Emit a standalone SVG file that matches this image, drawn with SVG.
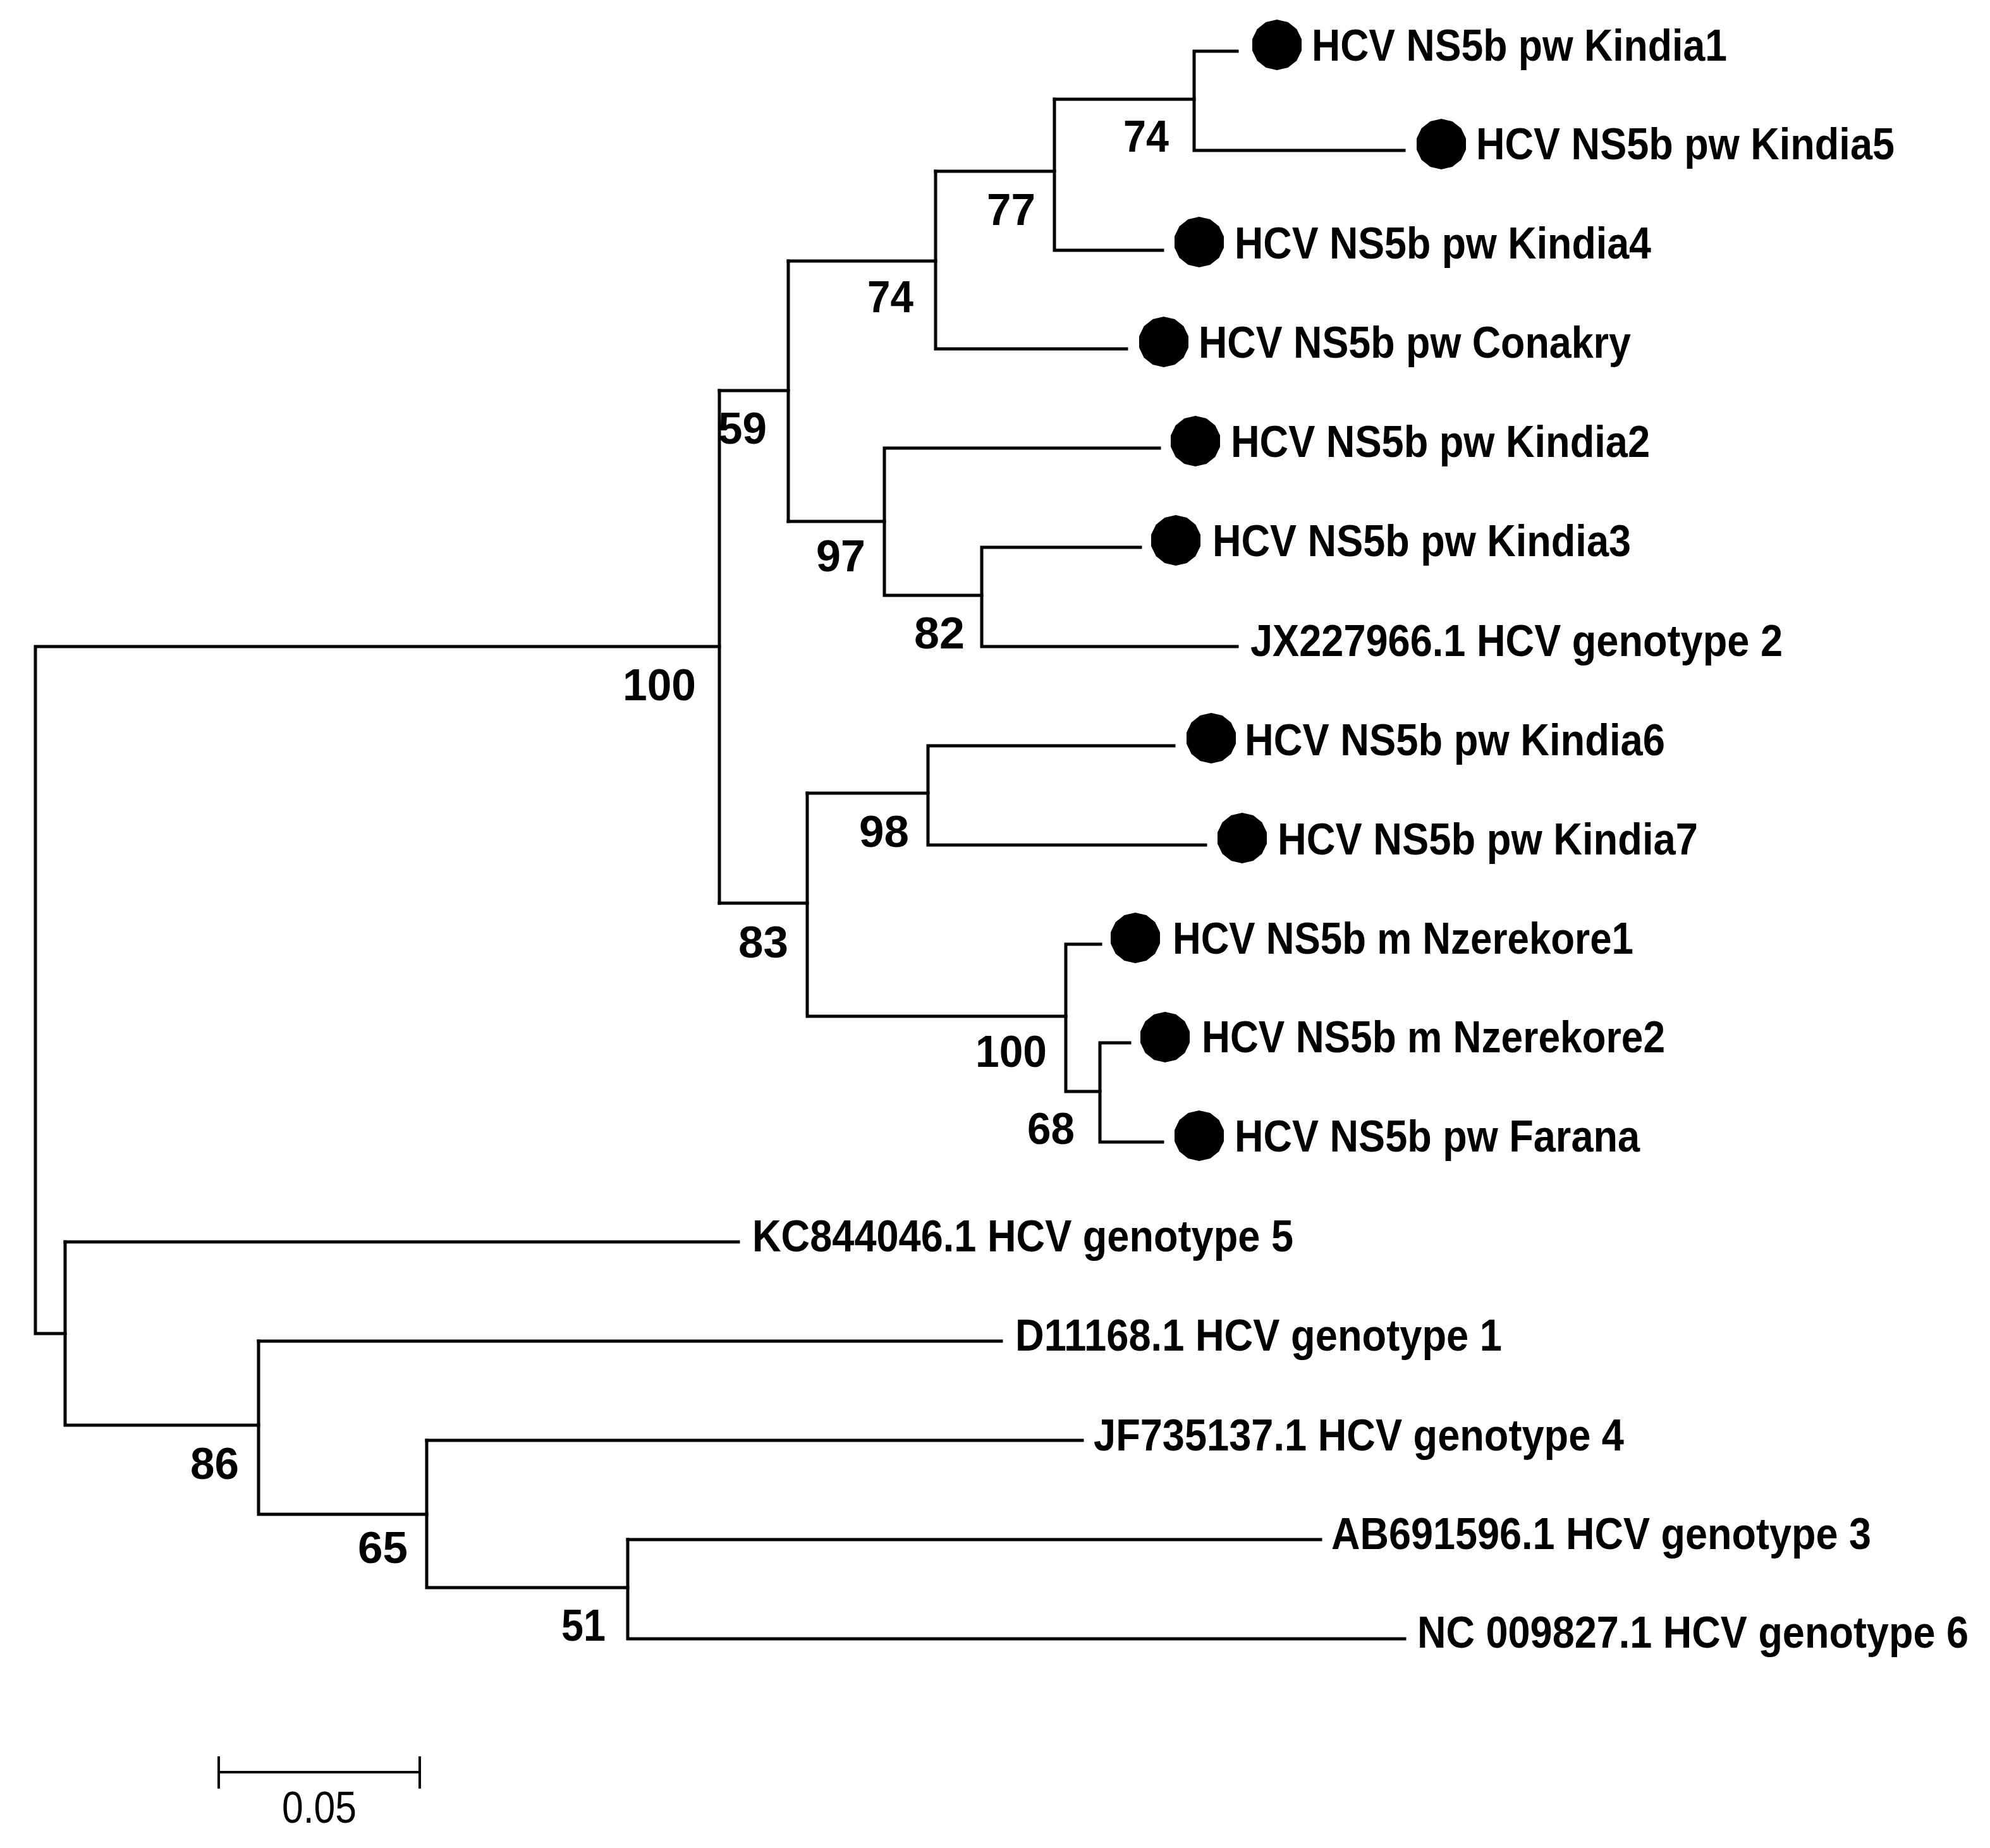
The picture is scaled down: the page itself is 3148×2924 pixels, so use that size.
<svg xmlns="http://www.w3.org/2000/svg" width="3148" height="2924" viewBox="0 0 3148 2924">
<style>
text{font-family:"Liberation Sans",Arial,sans-serif;font-weight:700;font-size:71px;fill:#000}
.scale{font-weight:400;font-size:70px}
.e{fill:none;stroke:#000;stroke-width:5;stroke-linecap:square;stroke-linejoin:miter}
.d{fill:#000}
</style>
<defs>
<polygon id="dot" class="d" points="0,-40 17.4,-36 31.3,-24.9 39,-8.9 39,8.9 31.3,24.9 17.4,36 0,40 -17.4,36 -31.3,24.9 -39,8.9 -39,-8.9 -31.3,-24.9 -17.4,-36"/>
</defs>
<rect width="3148" height="2924" fill="#fff"/>
<g id="connectors" class="e">
<path d="M1138 1023H56V2110H103"/>
<path d="M103 1965H1168"/>
<path d="M103 1965V2255H409"/>
<path d="M409 2122H1584"/>
<path d="M409 2122V2396H675"/>
<path d="M675 2279H1712"/>
<path d="M675 2279V2512H993"/>
<path d="M993 2436H2089"/>
<path d="M993 2436V2593H2222"/>
<path d="M1138 618V1429"/>
<path d="M1138 618H1247"/>
<path d="M1247 413V825"/>
<path d="M1247 413H1480"/>
<path d="M1480 271V552H1782"/>
<path d="M1480 271H1668"/>
<path d="M1668 157V396H1839"/>
<path d="M1668 157H1889"/>
<path d="M1957 81H1889V238H2221"/>
<path d="M1247 825H1399"/>
<path d="M1834 709H1399V942H1553"/>
<path d="M1804 866H1553V1023H1957"/>
<path d="M1138 1429H1277"/>
<path d="M1277 1255V1608H1686"/>
<path d="M1277 1255H1468"/>
<path d="M1857 1180H1468V1337H1907"/>
<path d="M1741 1494H1686V1727H1740"/>
<path d="M1787 1650H1740V1807H1839"/>
</g>
<g id="leaf-kindia1"><use href="#dot" x="2020" y="71"/><text x="2075" y="96" textLength="657" lengthAdjust="spacingAndGlyphs">HCV NS5b pw Kindia1</text></g>
<g id="leaf-kindia5"><use href="#dot" x="2280" y="228"/><text x="2335" y="252" textLength="662" lengthAdjust="spacingAndGlyphs">HCV NS5b pw Kindia5</text></g>
<g id="leaf-kindia4"><use href="#dot" x="1897" y="383"/><text x="1953" y="409" textLength="659" lengthAdjust="spacingAndGlyphs">HCV NS5b pw Kindia4</text></g>
<g id="leaf-conakry"><use href="#dot" x="1841" y="541"/><text x="1896" y="566" textLength="684" lengthAdjust="spacingAndGlyphs">HCV NS5b pw Conakry</text></g>
<g id="leaf-kindia2"><use href="#dot" x="1891" y="698"/><text x="1947" y="723" textLength="663" lengthAdjust="spacingAndGlyphs">HCV NS5b pw Kindia2</text></g>
<g id="leaf-kindia3"><use href="#dot" x="1860" y="855"/><text x="1918" y="880" textLength="662" lengthAdjust="spacingAndGlyphs">HCV NS5b pw Kindia3</text></g>
<g id="leaf-jx227966"><text x="1978" y="1038" textLength="842" lengthAdjust="spacingAndGlyphs">JX227966.1 HCV genotype 2</text></g>
<g id="leaf-kindia6"><use href="#dot" x="1916" y="1168"/><text x="1969" y="1195" textLength="665" lengthAdjust="spacingAndGlyphs">HCV NS5b pw Kindia6</text></g>
<g id="leaf-kindia7"><use href="#dot" x="1965" y="1326"/><text x="2021" y="1352" textLength="665" lengthAdjust="spacingAndGlyphs">HCV NS5b pw Kindia7</text></g>
<g id="leaf-nzerekore1"><use href="#dot" x="1796" y="1484"/><text x="1855" y="1509" textLength="729" lengthAdjust="spacingAndGlyphs">HCV NS5b m Nzerekore1</text></g>
<g id="leaf-nzerekore2"><use href="#dot" x="1843" y="1641"/><text x="1901" y="1665" textLength="733" lengthAdjust="spacingAndGlyphs">HCV NS5b m Nzerekore2</text></g>
<g id="leaf-farana"><use href="#dot" x="1897" y="1797"/><text x="1953" y="1822" textLength="641" lengthAdjust="spacingAndGlyphs">HCV NS5b pw Farana</text></g>
<g id="leaf-kc844046"><text x="1190" y="1980" textLength="856" lengthAdjust="spacingAndGlyphs">KC844046.1 HCV genotype 5</text></g>
<g id="leaf-d11168"><text x="1606" y="2137" textLength="770" lengthAdjust="spacingAndGlyphs">D11168.1 HCV genotype 1</text></g>
<g id="leaf-jf735137"><text x="1730" y="2295" textLength="839" lengthAdjust="spacingAndGlyphs">JF735137.1 HCV genotype 4</text></g>
<g id="leaf-ab691596"><text x="2106" y="2451" textLength="854" lengthAdjust="spacingAndGlyphs">AB691596.1 HCV genotype 3</text></g>
<g id="leaf-nc009827"><text x="2242" y="2607" textLength="872" lengthAdjust="spacingAndGlyphs">NC 009827.1 HCV genotype 6</text></g>
<g id="bootstrap">
<text x="1777" y="240" textLength="72" lengthAdjust="spacingAndGlyphs">74</text>
<text x="1561" y="356" textLength="77" lengthAdjust="spacingAndGlyphs">77</text>
<text x="1372" y="494" textLength="73" lengthAdjust="spacingAndGlyphs">74</text>
<text x="1136" y="702" textLength="77" lengthAdjust="spacingAndGlyphs">59</text>
<text x="1291" y="904" textLength="78" lengthAdjust="spacingAndGlyphs">97</text>
<text x="1446" y="1026" textLength="80" lengthAdjust="spacingAndGlyphs">82</text>
<text x="985" y="1108" textLength="116" lengthAdjust="spacingAndGlyphs">100</text>
<text x="1359" y="1340" textLength="79" lengthAdjust="spacingAndGlyphs">98</text>
<text x="1168" y="1515" textLength="79" lengthAdjust="spacingAndGlyphs">83</text>
<text x="1543" y="1688" textLength="113" lengthAdjust="spacingAndGlyphs">100</text>
<text x="1625" y="1810" textLength="75" lengthAdjust="spacingAndGlyphs">68</text>
<text x="301" y="2340" textLength="77" lengthAdjust="spacingAndGlyphs">86</text>
<text x="566" y="2473" textLength="79" lengthAdjust="spacingAndGlyphs">65</text>
<text x="888" y="2596" textLength="70" lengthAdjust="spacingAndGlyphs">51</text>
</g>
<g id="scale-bar">
<path d="M346 2779V2830M664 2779V2830M346 2804H664" fill="none" stroke="#000" stroke-width="4"/>
<text class="scale" x="446" y="2884" textLength="118" lengthAdjust="spacingAndGlyphs">0.05</text>
</g>
</svg>
